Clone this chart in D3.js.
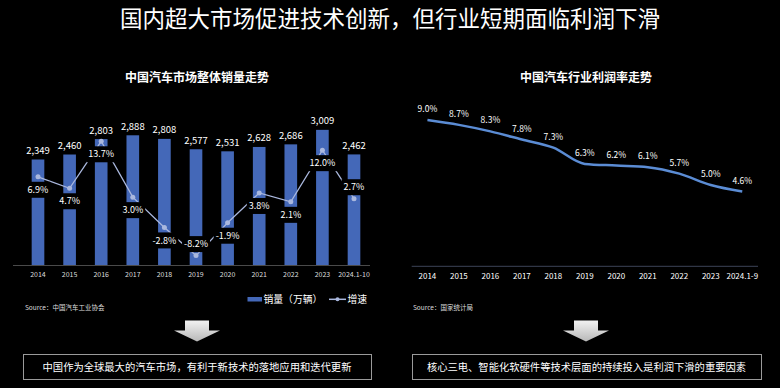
<!DOCTYPE html>
<html>
<head>
<meta charset="utf-8">
<script src="https://cdn.jsdelivr.net/npm/d3@7/dist/d3.min.js"></script>
<style>
  html, body { margin: 0; padding: 0; background: #000; }
  svg { display: block; font-family: "Noto Sans CJK SC", "Noto Sans", sans-serif; }
</style>
</head>
<body>
<svg id="chart" width="780" height="388"></svg>
<script>
// ---------- data ----------
const salesYears = ["2014","2015","2016","2017","2018","2019","2020","2021","2022","2023","2024.1-10"];
const salesValues = [2349, 2460, 2803, 2888, 2808, 2577, 2531, 2628, 2686, 3009, 2462];
const growthValues = [6.9, 4.7, 13.7, 3.0, -2.8, -8.2, -1.9, 3.8, 2.1, 12.0, 2.7];
const growthLabelAbove = ["2019", "2024.1-10"];

const profitYears = ["2014","2015","2016","2017","2018","2019","2020","2021","2022","2023","2024.1-9"];
const profitValues = [9.0, 8.7, 8.3, 7.8, 7.3, 6.3, 6.2, 6.1, 5.7, 5.0, 4.6];

const mainTitle = "国内超大市场促进技术创新，但行业短期面临利润下滑";
const leftTitle = "中国汽车市场整体销量走势";
const rightTitle = "中国汽车行业利润率走势";
const leftSource = "Source：中国汽车工业协会";
const rightSource = "Source：国家统计局";
const legendLabels = ["销量（万辆）", "增速"];
const leftConclusion = "中国作为全球最大的汽车市场，有利于新技术的落地应用和迭代更新";
const rightConclusion = "核心三电、智能化软硬件等技术层面的持续投入是利润下滑的重要因素";

// ---------- styles ----------
const barColor = "#4468b8";
const growthColor = "#aab8de";
const profitColor = "#5b8cd4";

const svg = d3.select("#chart");
svg.append("rect").attr("width", 780).attr("height", 388).attr("fill", "#000");

svg.append("text").attr("x", 390).attr("y", 27).attr("text-anchor", "middle")
  .attr("fill", "#fff").attr("font-size", 22.5).text(mainTitle);

// ---------- left chart ----------
const left = svg.append("g");
left.append("text").attr("x", 197).attr("y", 82).attr("text-anchor", "middle")
  .attr("fill", "#fff").attr("font-size", 12).attr("font-weight", "bold").text(leftTitle);

const xL = d3.scaleBand().domain(salesYears).range([22.2, 369.8]).padding(0);
const ySales = d3.scaleLinear().domain([0, 3500]).range([265, 107.8]);
const yGrowth = d3.scaleLinear().domain([-10, 15]).range([265, 134.5]);
const bw = xL.bandwidth() * 0.4;
const cx = d => xL(d) + xL.bandwidth() / 2;

left.append("line").attr("x1", 13).attr("x2", 370).attr("y1", 265.5).attr("y2", 265.5)
  .attr("stroke", "#4a4a4a").attr("stroke-width", 1);

left.selectAll("text.xl").data(salesYears).join("text").attr("class", "xl")
  .attr("x", d => cx(d)).attr("y", 276.5).attr("text-anchor", "middle")
  .attr("fill", "#ddd").attr("font-size", 7).text(d => d);

left.selectAll("rect.bar").data(salesYears).join("rect").attr("class", "bar")
  .attr("x", d => cx(d) - bw / 2).attr("width", bw)
  .attr("y", (d, i) => ySales(salesValues[i]))
  .attr("height", (d, i) => ySales(0) - ySales(salesValues[i]))
  .attr("fill", barColor);

left.selectAll("text.val").data(salesYears).join("text").attr("class", "val")
  .attr("x", d => cx(d)).attr("y", (d, i) => ySales(salesValues[i]) - 5.5)
  .attr("text-anchor", "middle").attr("fill", "#fff").attr("font-size", 9.5)
  .text((d, i) => d3.format(",")(salesValues[i]));

const gLine = d3.line().x(d => cx(d)).y((d, i) => yGrowth(growthValues[i]));
left.append("path").datum(salesYears).attr("d", gLine)
  .attr("fill", "none").attr("stroke", growthColor).attr("stroke-width", 1.3);
left.selectAll("circle.gp").data(salesYears).join("circle").attr("class", "gp")
  .attr("cx", d => cx(d)).attr("cy", (d, i) => yGrowth(growthValues[i]))
  .attr("r", 2.5).attr("fill", growthColor);

const glabels = left.selectAll("g.gl").data(salesYears).join("g").attr("class", "gl")
  .attr("transform", (d, i) => {
    const y = yGrowth(growthValues[i]) + (growthLabelAbove.includes(d) ? -11.5 : 13);
    return `translate(${cx(d)},${y})`;
  });
glabels.append("rect").attr("fill", "#000");
glabels.append("text").attr("text-anchor", "middle").attr("dy", "0.35em")
  .attr("fill", "#fff").attr("font-size", 9)
  .text((d, i) => growthValues[i].toFixed(1) + "%");
glabels.each(function() {
  const g = d3.select(this);
  const bb = g.select("text").node().getBBox();
  g.select("rect").attr("x", bb.x - 2).attr("width", bb.width + 4).attr("y", -8).attr("height", 16);
});

// legend
const lg = left.append("g");
lg.append("rect").attr("x", 247.5).attr("y", 297).attr("width", 14.5).attr("height", 4.5).attr("fill", barColor);
lg.append("text").attr("x", 263.5).attr("y", 302.5).attr("fill", "#fff").attr("font-size", 9.8).text(legendLabels[0]);
lg.append("line").attr("x1", 329).attr("x2", 346).attr("y1", 299.3).attr("y2", 299.3)
  .attr("stroke", growthColor).attr("stroke-width", 1.5);
lg.append("circle").attr("cx", 337.5).attr("cy", 299.3).attr("r", 2).attr("fill", growthColor);
lg.append("text").attr("x", 347.5).attr("y", 302.5).attr("fill", "#fff").attr("font-size", 9.8).text(legendLabels[1]);

left.append("text").attr("x", 25).attr("y", 309.5).attr("fill", "#ddd").attr("font-size", 6.5).text(leftSource);

// ---------- right chart ----------
const right = svg.append("g");
right.append("text").attr("x", 586).attr("y", 82).attr("text-anchor", "middle")
  .attr("fill", "#fff").attr("font-size", 12).attr("font-weight", "bold").text(rightTitle);

const xR = d3.scaleBand().domain(profitYears).range([411.7, 758]).padding(0);
const yProfit = d3.scaleLinear().domain([0, 9]).range([266.3, 120]);
const rcx = d => xR(d) + xR.bandwidth() / 2;

right.append("line").attr("x1", 411.7).attr("x2", 758).attr("y1", 266.3).attr("y2", 266.3)
  .attr("stroke", "#3c4458").attr("stroke-width", 1);
right.selectAll("text.xr").data(profitYears).join("text").attr("class", "xr")
  .attr("x", d => rcx(d)).attr("y", 279).attr("text-anchor", "middle")
  .attr("fill", "#fff").attr("font-size", 8).text(d => d);

const pLine = d3.line().curve(d3.curveMonotoneX).x(d => rcx(d)).y((d, i) => yProfit(profitValues[i]));
right.append("path").datum(profitYears).attr("d", pLine)
  .attr("fill", "none").attr("stroke", profitColor).attr("stroke-width", 2.5);
right.selectAll("text.pv").data(profitYears).join("text").attr("class", "pv")
  .attr("x", d => rcx(d)).attr("y", (d, i) => yProfit(profitValues[i]) - 8)
  .attr("text-anchor", "middle").attr("fill", "#fff").attr("font-size", 8.5)
  .text((d, i) => profitValues[i].toFixed(1) + "%");

right.append("text").attr("x", 413).attr("y", 309.5).attr("fill", "#ddd").attr("font-size", 6.5).text(rightSource);

// ---------- arrows & conclusions ----------
const defs = svg.append("defs");
const grad = defs.append("linearGradient").attr("id", "arrowGrad").attr("x1", 0).attr("y1", 0).attr("x2", 0).attr("y2", 1);
grad.append("stop").attr("offset", "0%").attr("stop-color", "#f2f2f2");
grad.append("stop").attr("offset", "100%").attr("stop-color", "#b8b8b8");

function arrow(cxA) {
  const p = d3.path();
  p.moveTo(cxA - 12, 320.5); p.lineTo(cxA + 12, 320.5); p.lineTo(cxA + 12, 330.5);
  p.lineTo(cxA + 23, 330.5); p.lineTo(cxA, 341.5); p.lineTo(cxA - 23, 330.5);
  p.lineTo(cxA - 12, 330.5); p.closePath();
  svg.append("path").attr("d", p.toString()).attr("fill", "url(#arrowGrad)");
}
arrow(197); arrow(586);

function box(x0, x1, txt) {
  svg.append("rect").attr("x", x0 + 0.5).attr("y", 354.5).attr("width", x1 - x0).attr("height", 25)
    .attr("fill", "none").attr("stroke", "#9a9a9a").attr("stroke-width", 1);
  svg.append("text").attr("x", (x0 + x1) / 2).attr("y", 367.5).attr("dy", "0.35em")
    .attr("text-anchor", "middle").attr("fill", "#fff").attr("font-size", 10.3).text(txt);
}
box(23, 371, leftConclusion);
box(412, 761, rightConclusion);
</script>
</body>
</html>
